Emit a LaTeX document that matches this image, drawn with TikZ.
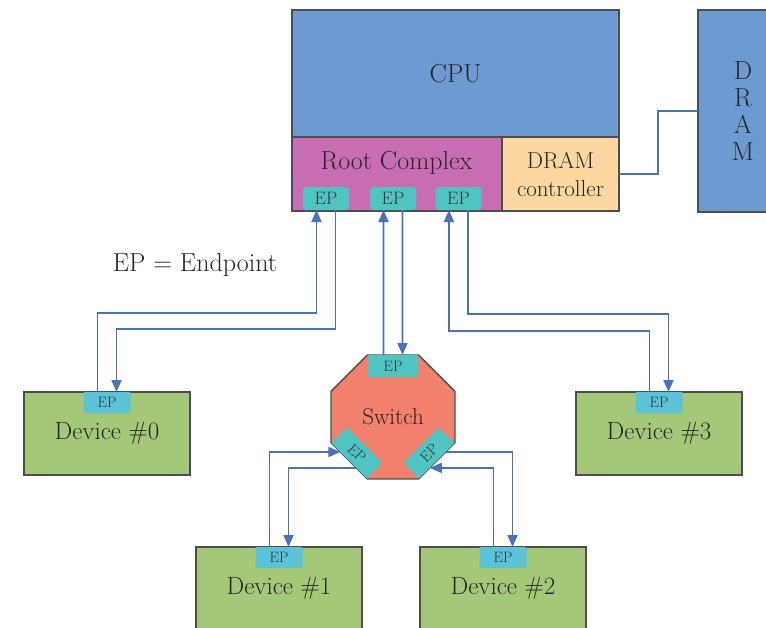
\documentclass[tikz,border=0pt]{standalone}
\usepackage{fontspec}
\usepackage{tikz}
\usetikzlibrary{shapes, arrows.meta, positioning, calc}
\definecolor{cpublue}{HTML}{6D9BD1}
\definecolor{rootpink}{HTML}{C86DB4}
\definecolor{ctrlorange}{HTML}{FCD8A0}
\definecolor{epcyan}{HTML}{4FC5C3}
\definecolor{devepcyan}{HTML}{5BC2D8}
\definecolor{switchred}{HTML}{F1806C}
\definecolor{devgreen}{HTML}{A3C978}
\definecolor{linkblue}{HTML}{4A72B8}
\definecolor{edgegray}{HTML}{4D4D4D}
\tikzset{
    box/.style={rectangle, draw=edgegray, line width=1.3pt, anchor=north west, inner sep=0pt, outer sep=0pt, align=center, text=black!85},
    ep/.style={rectangle, rounded corners=3pt, fill=epcyan, inner sep=0pt, outer sep=0pt, minimum width=46pt, minimum height=23pt, text=black!80, font=\fontsize{18}{18}\selectfont},
    devep/.style={ep, fill=devepcyan, rounded corners=1pt, minimum width=47pt, minimum height=21pt, font=\fontsize{15}{15}\selectfont},
    swep/.style={ep, minimum width=50pt, minimum height=22pt, rounded corners=1pt, font=\fontsize{15}{15}\selectfont},
    device/.style={box, fill=devgreen, minimum width=166pt, minimum height=83pt, font=\fontsize{25}{25}\selectfont},
    link/.style={draw=linkblue, line width=1.8pt},
    arrow/.style={link, -{Triangle[width=10pt, length=12pt]}},
    bigtext/.style={font=\fontsize{26}{30}\selectfont, text=black!85}
}
\begin{document}
\begin{tikzpicture}[x=1pt, y=-1pt]
    \clip (0,0) rectangle (766,627);

    % host side
    \node[box, fill=cpublue, minimum width=327pt, minimum height=127pt, bigtext] (cpu) at (292,10) {CPU};
    \node[box, fill=rootpink, minimum width=210pt, minimum height=74pt] (rc) at (292,137) {};
    \node[bigtext, anchor=base] (rclabel) at (396.5,169) {Root Complex};
    \node[box, fill=ctrlorange, minimum width=117pt, minimum height=74pt, font=\fontsize{23}{28}\selectfont] (ctrl) at (rc.north east) {DRAM\\controller};
    \node[box, fill=cpublue, minimum width=90pt, minimum height=202pt, font=\fontsize{26}{27}\selectfont] (dram) at (698,10) {D\\R\\A\\M};

    \node[ep, anchor=south] (rcep0) at (326,210) {EP};
    \node[ep, anchor=south] (rcep1) at (393,210) {EP};
    \node[ep, anchor=south] (rcep2) at (458.5,210) {EP};

    \node[bigtext, anchor=base] (legend) at (195,271) {EP = Endpoint};

    % switch
    \node[regular polygon, regular polygon sides=8, draw=edgegray, line width=1.3pt, fill=switchred, minimum size=134.2pt, inner sep=0pt, outer sep=0pt, text=black!85, font=\fontsize{23}{23}\selectfont] (sw) at (393,417) {Switch};
    \node[swep, anchor=north] (swep0) at (sw.north) {EP};
    \node[swep, anchor=south, rotate=-45] (swep1) at (sw.south west) {EP};
    \node[swep, anchor=south, rotate=45] (swep2) at (sw.south east) {EP};

    % devices
    \node[device] (dev0) at (24,392) {Device \#0};
    \node[device] (dev3) at (576,392) {Device \#3};
    \node[device] (dev1) at (196,547) {Device \#1};
    \node[device] (dev2) at (420,547) {Device \#2};
    \node[devep, anchor=north] (dev0ep) at (dev0.north) {EP};
    \node[devep, anchor=north] (dev3ep) at (dev3.north) {EP};
    \node[devep, anchor=north] (dev1ep) at (dev1.north) {EP};
    \node[devep, anchor=north] (dev2ep) at (dev2.north) {EP};

    \coordinate (swin1) at ($(swep1.south west)!0.25!(swep1.south east)$);
    \coordinate (swout1) at ($(swep1.south west)!0.70!(swep1.south east)$);
    \coordinate (swout2) at ($(swep2.south west)!0.75!(swep2.south east)$);
    \coordinate (swin2) at ($(swep2.south west)!0.30!(swep2.south east)$);

    % links
    \draw[link] (ctrl.east) -- ++(39,0) |- (dram.west);

    \draw[arrow] ($(dev0ep.north)+(-9.5,0)$) -- ++(0,-79) -| ($(rcep0.south)+(-9.5,0)$);
    \draw[arrow] ($(rcep0.south)+(9.5,0)$) -- ++(0,119) -| ($(dev0ep.north)+(9.5,0)$);

    \draw[arrow] ($(swep0.north)+(-9.5,0)$) -- ($(rcep1.south)+(-9.5,0)$);
    \draw[arrow] ($(rcep1.south)+(9.5,0)$) -- ($(swep0.north)+(9.5,0)$);

    \draw[arrow] ($(dev3ep.north)+(-9.5,0)$) -- ++(0,-61) -| ($(rcep2.south)+(-9.5,0)$);
    \draw[arrow] ($(rcep2.south)+(9.5,0)$) -- ++(0,104) -| ($(dev3ep.north)+(9.5,0)$);

    \draw[arrow] ($(dev1ep.north)+(-9.5,0)$) |- (swin1);
    \draw[arrow] (swout1) -| ($(dev1ep.north)+(9.5,0)$);
    \draw[arrow] (swout2) -| ($(dev2ep.north)+(9.5,0)$);
    \draw[arrow] ($(dev2ep.north)+(-9.5,0)$) |- (swin2);
\end{tikzpicture}
\end{document}
